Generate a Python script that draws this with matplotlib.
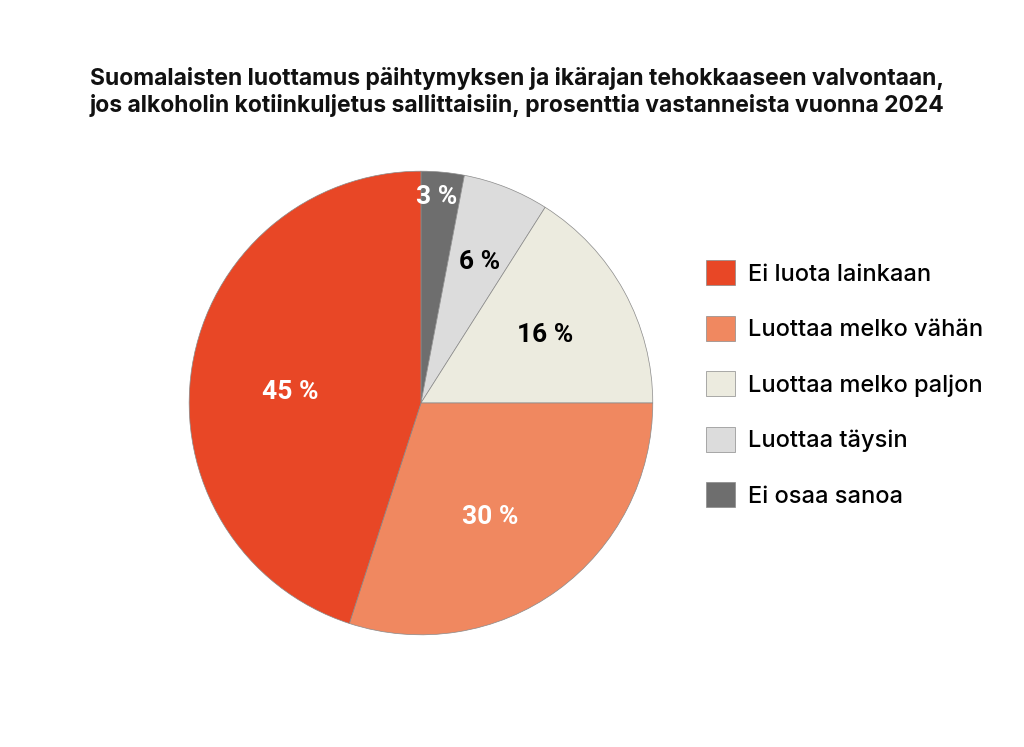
import matplotlib
matplotlib.use("Agg")
import matplotlib.pyplot as plt
import numpy as np

# data, clockwise from the top
labels = ["Ei osaa sanoa", "Luottaa täysin", "Luottaa melko paljon",
          "Luottaa melko vähän", "Ei luota lainkaan"]
values = [3, 6, 16, 30, 45]
colors = ["#6e6e6e", "#dcdcdc", "#ecebdf", "#f08860", "#e84726"]
text_colors = ["white", "black", "black", "white", "white"]
label_dist = [0.89, 0.66, 0.61, 0.578, 0.564]
label_turn = [1, -1, 0, -4.7, 4.2]  # degrees away from the wedge middle

title = ("Suomalaisten luottamus päihtymyksen ja ikärajan tehokkaaseen valvontaan,\n"
         "jos alkoholin kotiinkuljetus sallittaisiin, prosenttia vastanneista vuonna 2024")

fig = plt.figure(figsize=(10.24, 7.47), dpi=100)
ax = fig.add_axes([0.1836, 0.1486, 0.455, 0.6238])
wedges, _ = ax.pie(values, colors=colors, startangle=90, counterclock=False,
                   wedgeprops=dict(edgecolor="#8a8a8a", linewidth=0.5))
ax.set_xlim(-1.005, 1.005)
ax.set_ylim(-1.005, 1.005)
ax.set_aspect("equal")
ax.axis("off")

for w, v, c, d, t in zip(wedges, values, text_colors, label_dist, label_turn):
    ang = np.deg2rad((w.theta1 + w.theta2) / 2 + t)
    ax.text(d * np.cos(ang), d * np.sin(ang), f"{v} %", ha="center", va="center",
            color=c, fontsize=19, fontweight="bold", family="Roboto")

fig.text(0.505, 0.877, title, ha="center", va="center", fontsize=16.5,
         fontweight="bold", family="Inter", linespacing=1.2, color="#111111")

fig.legend(wedges[::-1], labels[::-1], loc="upper left",
           bbox_to_anchor=(0.680, 0.664), frameon=False, borderaxespad=0,
           handlelength=1.23, handleheight=1.23, labelspacing=1.28,
           handletextpad=0.55, prop=dict(family="Inter", weight="medium", size=17))

fig.savefig("out.png", dpi=100, facecolor="white")
